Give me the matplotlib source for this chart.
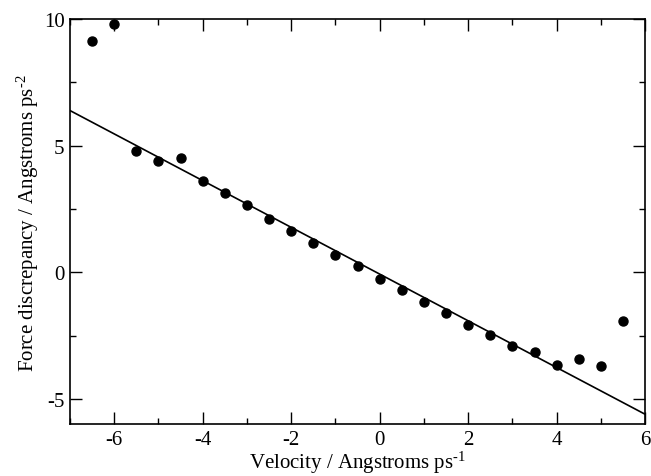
import matplotlib as mpl
mpl.use("Agg")
import matplotlib.pyplot as plt
import numpy as np
from matplotlib.ticker import MultipleLocator

mpl.rcParams.update(
    {
        "font.family": "serif",
        "font.serif": ["Liberation Serif", "DejaVu Serif"],
        "mathtext.fontset": "custom",
        "mathtext.rm": "Liberation Serif",
        "mathtext.default": "regular",
        "axes.unicode_minus": False,
        "font.size": 15,
        "axes.linewidth": 1.2,
    }
)

# data
velocity = [-6.5, -6.0, -5.5, -5.0, -4.5, -4.0, -3.5, -3.0, -2.5, -2.0, -1.5, -1.0,
            -0.5, 0.0, 0.5, 1.0, 1.5, 2.0, 2.5, 3.0, 3.5, 4.0, 4.5, 5.0, 5.5]
force_disc = [9.15, 9.79, 4.81, 4.39, 4.51, 3.62, 3.13, 2.67, 2.11, 1.63, 1.16, 0.68,
              0.24, -0.24, -0.70, -1.16, -1.60, -2.06, -2.45, -2.90, -3.12, -3.66, -3.40, -3.69, -1.92]

# linear fit shown in the figure
fit_slope = -0.922
fit_intercept = -0.065
fit_range = [-7.0, 6.0]

fig = plt.figure(figsize=(6.51, 4.77), dpi=100)
ax = fig.add_axes([0.1075, 0.108, 0.8835, 0.85])

xf = np.array(fit_range)
ax.plot(xf, fit_slope * xf + fit_intercept, color="black", lw=1.2, zorder=2)
ax.plot(velocity, force_disc, "o", color="black", ms=6.5, zorder=3)

ax.set_xlim(-7, 6)
ax.set_ylim(-6, 10)
ax.xaxis.set_major_locator(MultipleLocator(2))
ax.xaxis.set_minor_locator(MultipleLocator(1))
ax.yaxis.set_major_locator(MultipleLocator(5))
ax.yaxis.set_minor_locator(MultipleLocator(2.5))
ax.tick_params(which="both", direction="in", top=True, right=True, width=1.0)
ax.tick_params(which="major", length=8.5, pad=4)
ax.tick_params(which="minor", length=4)

ax.set_xlabel("Velocity / Angstroms ps$^{\u20101}$", labelpad=0)
ax.set_ylabel("Force discrepancy / Angstroms ps$^{\u20102}$", labelpad=2)

fig.savefig("out.png", dpi=100)
